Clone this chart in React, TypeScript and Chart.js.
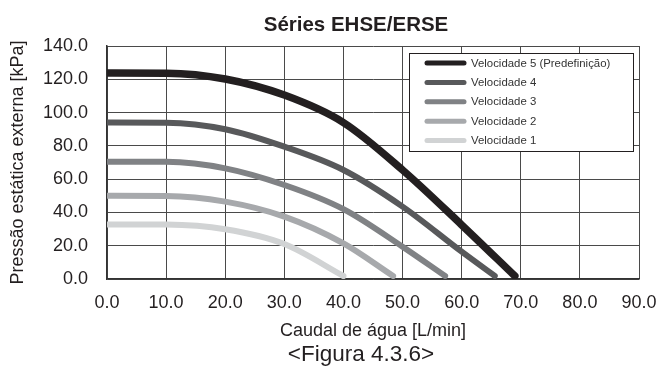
import React, { useEffect, useRef } from "react";
import { Chart, registerables } from "chart.js";

Chart.register(...registerables);

const chartTitle = "Séries EHSE/ERSE";
const figureCaption = "<Figura 4.3.6>";
const xAxisTitle = "Caudal de água [L/min]";
const yAxisTitle = "Pressão estática externa [kPa]";

const seriesLabels = [
  "Velocidade 5 (Predefinição)",
  "Velocidade 4",
  "Velocidade 3",
  "Velocidade 2",
  "Velocidade 1",
];
const seriesColors = ["#231f20", "#58595b", "#808285", "#a7a9ac", "#d1d3d4"];
const seriesWidths = [7.5, 6, 6, 6, 6];

const flowSpeed5 = [0, 10, 20, 30, 40, 50, 60, 69];
const pressureSpeed5 = [123.8, 123.7, 120.2, 110.5, 94, 65.5, 32.5, 1.8];
const flowSpeed4 = [0, 10, 20, 30, 40, 50, 60, 65.6];
const pressureSpeed4 = [94, 93.9, 90, 79.5, 65.5, 43.5, 16.4, 1.8];
const flowSpeed3 = [0, 10, 20, 30, 40, 50, 57.2];
const pressureSpeed3 = [70.5, 70.4, 66.5, 56.5, 42, 19.4, 1.8];
const flowSpeed2 = [0, 10, 20, 30, 40, 48.4];
const pressureSpeed2 = [50, 49.9, 46.5, 37.5, 21.4, 1.8];
const flowSpeed1 = [0, 10, 20, 30, 40];
const pressureSpeed1 = [32.8, 32.7, 29.9, 21, 1.8];

const seriesFlows = [flowSpeed5, flowSpeed4, flowSpeed3, flowSpeed2, flowSpeed1];
const seriesPressures = [pressureSpeed5, pressureSpeed4, pressureSpeed3, pressureSpeed2, pressureSpeed1];

const xTicks = [0, 10, 20, 30, 40, 50, 60, 70, 80, 90];
const yTicks = [0, 20, 40, 60, 80, 100, 120, 140];

const FONT = '"Liberation Sans", Arial, Helvetica, sans-serif';
const TEXT_COLOR = "#231f20";

const boxLegendPlugin = {
  id: "boxLegend",
  afterDraw(chart: any) {
    const ctx = chart.ctx;
    const area = chart.chartArea;
    const boxW = 224;
    const boxH = 98;
    const right = area.right - 6;
    const left = right - boxW;
    const top = area.top + 7;
    ctx.save();
    ctx.fillStyle = "#ffffff";
    ctx.fillRect(left, top, boxW, boxH);
    ctx.strokeStyle = "#231f20";
    ctx.lineWidth = 1;
    ctx.strokeRect(left + 0.5, top + 0.5, boxW, boxH);
    ctx.font = "11.4px " + FONT;
    ctx.textBaseline = "middle";
    ctx.textAlign = "left";
    chart.data.datasets.forEach((ds: any, i: number) => {
      const y = top + 10 + i * 19.4;
      ctx.strokeStyle = ds.borderColor;
      ctx.lineWidth = 5;
      ctx.lineCap = "round";
      ctx.beginPath();
      ctx.moveTo(left + 18, y);
      ctx.lineTo(left + 55, y);
      ctx.stroke();
      ctx.fillStyle = "#333333";
      ctx.fillText(ds.label, left + 62, y + 0.5);
    });
    ctx.restore();
  },
};

export default function App() {
  const canvasRef = useRef<HTMLCanvasElement | null>(null);

  useEffect(() => {
    if (!canvasRef.current) return;
    const datasets = seriesLabels.map((label, i) => ({
      label,
      data: seriesFlows[i].map((x, j) => ({ x, y: seriesPressures[i][j] })),
      borderColor: seriesColors[i],
      backgroundColor: seriesColors[i],
      borderWidth: seriesWidths[i],
      borderCapStyle: "round" as const,
      borderJoinStyle: "round" as const,
      pointRadius: 0,
      cubicInterpolationMode: "monotone" as const,
      fill: false,
    }));
    const chart = new Chart(canvasRef.current, {
      type: "line",
      data: { datasets },
      plugins: [boxLegendPlugin],
      options: {
        responsive: false,
        animation: false,
        devicePixelRatio: 1,
        layout: { padding: { left: 7, right: 21, top: 46, bottom: 28 } },
        plugins: {
          legend: { display: false },
          title: { display: false },
          tooltip: { enabled: false },
        },
        scales: {
          x: {
            type: "linear",
            min: 0,
            max: 90,
            afterBuildTicks: (scale: any) => {
              scale.ticks = xTicks.map((v) => ({ value: v }));
            },
            afterFit: (scale: any) => {
              scale.height = 63;
              scale.paddingLeft = 0;
              scale.paddingRight = 0;
            },
            ticks: {
              callback: (v: any) => Number(v).toFixed(1),
              font: { family: FONT, size: 18 },
              color: TEXT_COLOR,
              padding: 13,
              maxRotation: 0,
            },
            grid: { color: "#4a4a4a", lineWidth: 1, drawTicks: false },
            border: { color: "#333333", width: 1.5 },
            title: {
              display: true,
              text: xAxisTitle,
              font: { family: FONT, size: 18 },
              color: TEXT_COLOR,
              padding: 0,
            },
          },
          y: {
            type: "linear",
            min: 0,
            max: 140,
            afterBuildTicks: (scale: any) => {
              scale.ticks = yTicks.map((v) => ({ value: v }));
            },
            afterFit: (scale: any) => {
              scale.width = 100;
              scale.paddingTop = 0;
              scale.paddingBottom = 0;
            },
            ticks: {
              callback: (v: any) => Number(v).toFixed(1),
              font: { family: FONT, size: 18 },
              color: TEXT_COLOR,
              padding: 19,
            },
            grid: { color: "#4a4a4a", lineWidth: 1, drawTicks: false },
            border: { color: "#333333", width: 1.5 },
            title: {
              display: true,
              text: yAxisTitle,
              font: { family: FONT, size: 18 },
              color: TEXT_COLOR,
              padding: 0,
            },
          },
        },
      },
    });
    return () => chart.destroy();
  }, []);

  return (
    <div style={{ position: "absolute", left: 0, top: 0, width: 660, height: 370, background: "#ffffff" }}>
      <canvas ref={canvasRef} width={660} height={370} style={{ display: "block" }} />
      <div
        style={{
          position: "absolute",
          left: 156,
          top: 12,
          width: 400,
          textAlign: "center",
          fontFamily: FONT,
          fontWeight: "bold",
          fontSize: "20.5px",
          lineHeight: "24px",
          color: TEXT_COLOR,
        }}
      >
        {chartTitle}
      </div>
      <div
        style={{
          position: "absolute",
          left: 161,
          top: 341,
          width: 400,
          textAlign: "center",
          fontFamily: FONT,
          fontSize: "22.5px",
          lineHeight: "26px",
          color: TEXT_COLOR,
        }}
      >
        {figureCaption}
      </div>
    </div>
  );
}
